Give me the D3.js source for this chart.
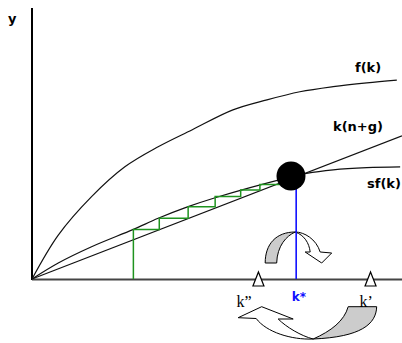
<!DOCTYPE html>
<html>
<head>
<meta charset="utf-8">
<script src="https://cdn.jsdelivr.net/npm/d3@7"></script>
<style>
  body { margin: 0; background: #fff; }
</style>
</head>
<body>
<div id="graphe"></div>
<script>
// courbes (unites du graphe 0..10)
var fK = [0, 0.71, 1.61, 2.51, 3.41, 4.32, 5.43, 6.35, 7.24, 8.14, 9.05, 9.86];
var fY = [0, 1.62, 3.04, 4.14, 4.88, 5.50, 6.24, 6.61, 6.91, 7.10, 7.24, 7.34];

var sfK = [0, 0.71, 1.61, 2.74, 3.41, 4.22, 4.95, 7.0, 7.42, 8.14, 9.05, 9.95];
var sfY = [0, 0.59, 1.19, 1.83, 2.24, 2.67, 3.00, 3.77, 3.90, 4.03, 4.11, 4.14];

var ngK = [0, 10];
var ngY = [0, 5.28];

// escalier vert
var stairK = [2.74, 3.44, 4.22, 4.95, 5.64, 6.16, 6.8];
var stairY = [1.83, 2.24, 2.67, 3.04, 3.28, 3.49];

var kStar = 7.14;
var dotK = 7.0, dotY = 3.8;
var kSecond = 6.12, kPrime = 9.15;

var labels = ["f(k)", "k(n+g)", "sf(k)"];

var width = 402, height = 343;

var svg = d3.select("#graphe")
    .append("svg")
    .attr("width", width)
    .attr("height", height);

var x = d3.scaleLinear().domain([0, 10]).range([32, 402]);
var y = d3.scaleLinear().domain([0, 10]).range([279, 8]);

var line = d3.line()
    .x(function(d) { return x(d[0]); })
    .y(function(d) { return y(d[1]); })
    .curve(d3.curveCatmullRom.alpha(0.5));

function pts(ks, ys) { return ks.map(function(k, i) { return [k, ys[i]]; }); }

// fleches (decalages par rapport au pied de k*)
var cx = x(kStar), ay = y(0);
var arrows = svg.append("g").attr("transform", "translate(" + cx + "," + ay + ")")
    .attr("stroke", "#000").attr("stroke-width", 1).attr("stroke-linejoin", "round");

arrows.append("path")
    .attr("fill", "#cccccc")
    .attr("d", "M-31,-16 C-31,-35 -20,-47 -1,-47 C-10,-43 -19,-33 -19.5,-16 Z");
arrows.append("path")
    .attr("fill", "#fff")
    .attr("d", "M-1,-47 C8,-47 20,-40 24,-27 L35.5,-26 L25.5,-16 L9,-27 L14,-27 C13,-36 8,-44 -1,-47 Z");

arrows.append("path")
    .attr("fill", "#cccccc")
    .attr("d", "M52,27.7 L80.5,27.7 C80,45 65,58 17,60 C35,52 48,42 52,27.7 Z");
arrows.append("path")
    .attr("fill", "#fff")
    .attr("d", "M17,60 C-5,61 -30,53 -40,39.5 L-58,38.7 L-34.5,27.7 L-3,40 L-18,40 C-10,48 5,57 17,60 Z");

// axes
svg.append("line")
    .attr("x1", x(0)).attr("x2", x(0))
    .attr("y1", y(10)).attr("y2", y(0) + 1)
    .attr("stroke", "#000").attr("stroke-width", 2);
svg.append("line")
    .attr("x1", x(0)).attr("x2", x(10))
    .attr("y1", y(0) + 0.5).attr("y2", y(0) + 0.5)
    .attr("stroke", "#444").attr("stroke-width", 1.8);

// courbes
[pts(fK, fY), pts(sfK, sfY), pts(ngK, ngY)].forEach(function(c) {
  svg.append("path")
      .attr("d", line(c))
      .attr("fill", "none")
      .attr("stroke", "#111")
      .attr("stroke-width", 1.2);
});

// escalier
var stair = [[stairK[0], 0]];
for (var i = 0; i < stairY.length; ++i) {
  stair.push([stairK[i], stairY[i]]);
  stair.push([stairK[i + 1], stairY[i]]);
}
svg.append("path")
    .attr("d", d3.line().x(function(d) { return x(d[0]); }).y(function(d) { return y(d[1]); })(stair))
    .attr("fill", "none")
    .attr("stroke", "#1f931f")
    .attr("stroke-width", 1.5);

// k* vertical
svg.append("line")
    .attr("x1", x(kStar)).attr("x2", x(kStar))
    .attr("y1", y(dotY)).attr("y2", y(0))
    .attr("stroke", "#1010ff").attr("stroke-width", 1.6);

svg.append("circle")
    .attr("cx", x(dotK)).attr("cy", y(dotY))
    .attr("r", 14.5)
    .attr("fill", "#000");

// triangles
svg.selectAll(".tri")
    .data([kSecond, kPrime])
    .enter().append("path")
    .attr("class", "tri")
    .attr("transform", function(d) { return "translate(" + x(d) + "," + (y(0) - 7) + ")"; })
    .attr("d", "M0,0 L5.5,14 L-5.5,14 Z")
    .attr("fill", "#fff")
    .attr("stroke", "#000")
    .attr("stroke-width", 1.2);

// textes
var bold = "'DejaVu Sans', Verdana, sans-serif";
svg.append("text").attr("x", 8).attr("y", 23)
    .attr("font-family", bold).attr("font-weight", "bold").attr("font-size", 13)
    .text("y");

var labPos = [[355, 71.5], [333, 131], [367, 188]];
labels.forEach(function(t, i) {
  svg.append("text")
      .attr("x", labPos[i][0]).attr("y", labPos[i][1])
      .attr("font-family", bold).attr("font-weight", "bold").attr("font-size", 13)
      .text(t);
});

svg.append("text").attr("x", x(kStar) - 4.5).attr("y", 301)
    .attr("font-family", bold).attr("font-weight", "bold").attr("font-size", 12)
    .attr("fill", "#1010ff")
    .text("k*");

svg.append("text").attr("x", x(kSecond) - 22).attr("y", 307)
    .attr("font-family", "'Liberation Serif', 'Times New Roman', serif").attr("font-size", 16)
    .text("k\u201D");
svg.append("text").attr("x", x(kPrime) - 11).attr("y", 307)
    .attr("font-family", "'Liberation Serif', 'Times New Roman', serif").attr("font-size", 16)
    .text("k\u2019");
</script>
</body>
</html>
